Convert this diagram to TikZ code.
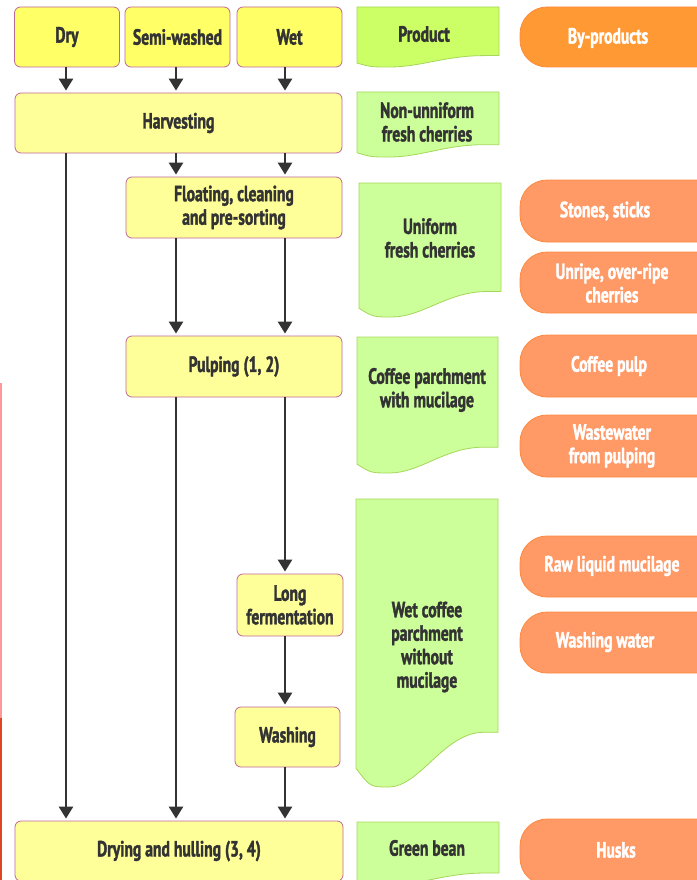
\documentclass[tikz,border=0pt]{standalone}
\usepackage{fontspec}
\setmainfont{PT Sans}[FakeStretch=0.71, BoldFeatures={FakeBold=1.6}]
\usetikzlibrary{arrows.meta,calc}
\definecolor{procYellow}{HTML}{FFFF99}
\definecolor{routeYellow}{HTML}{FFFF66}
\definecolor{procEdge}{HTML}{C0679B}
\definecolor{prodGreen}{HTML}{CCFF99}
\definecolor{prodHead}{HTML}{CCFF66}
\definecolor{prodEdge}{HTML}{A6D65A}
\definecolor{byOrange}{HTML}{FF9966}
\definecolor{byHead}{HTML}{FF9933}
\definecolor{byEdge}{HTML}{FF8A3D}
\definecolor{inkGrey}{HTML}{333333}

% product sheet: fill, x0, y0, x1, lowest y
\newcommand{\prodsheet}[5]{%
  \draw[prodEdge, line width=0.8pt, fill=#1]
    (#2,#3) -- (#4,#3) -- (#4,{#5-0.19*(#5-#3)})
    -- ({#2+0.9*(#4-#2)},{#5-0.19*(#5-#3)})
    .. controls ({#2+0.62*(#4-#2)},{#5-0.19*(#5-#3)}) and ({#2+0.45*(#4-#2)},#5) .. ({#2+0.23*(#4-#2)},#5)
    .. controls ({#2+0.1*(#4-#2)},#5) .. (#2,{#5-0.065*(#5-#3)}) -- cycle;}
% by-product tab, open to the right edge: fill, top, bottom
\newcommand{\bytab}[3]{%
  \draw[byEdge, line width=0.8pt, fill=#1, rounded corners=27pt]
    (700,#2) -- (520,#2) -- (520,#3) -- (700,#3);}

\begin{document}
\begin{tikzpicture}[x=1pt, y=-1pt,
    txt/.style={font=\bfseries\fontsize{22}{23.5}\selectfont, align=center},
    proc/.style={txt, rectangle, rounded corners=6pt, draw=procEdge, fill=procYellow,
                 line width=0.8pt, text=inkGrey, inner sep=0pt},
    route/.style={proc, fill=routeYellow},
    prodtxt/.style={txt, text=inkGrey},
    bytxt/.style={txt, text=white},
    flow/.style={-{Triangle[width=14pt,length=12pt]}, inkGrey, line width=2.6pt, shorten >=2pt}
  ]
  \useasboundingbox (0,0) rectangle (696,880);

  % edge of the page
  \draw[line width=1.5pt, red!40] (0.75,383) -- (0.75,718);
  \draw[line width=1.5pt, red!45!brown] (0.75,718) -- (0.75,880);

  % processing routes
  \node[route, minimum width=105pt, minimum height=60pt] (dry)  at (67,37)    {Dry};
  \node[route, minimum width=105pt, minimum height=60pt] (semi) at (177.5,37) {Semi-washed};
  \node[route, minimum width=105pt, minimum height=60pt] (wet)  at (289.5,37) {Wet};

  % processing steps
  \node[proc, minimum width=327pt, minimum height=60pt] (harv)  at (178.5,123) {Harvesting};
  \node[proc, minimum width=216pt, minimum height=61pt] (float) at (234,207.5) {Floating, cleaning\\and pre-sorting};
  \node[proc, minimum width=216pt, minimum height=61pt] (pulp)  at (234,366.5) {Pulping (1, 2)};
  \node[proc, minimum width=106pt, minimum height=62pt] (ferm)  at (290,605)   {Long\\fermentation};
  \node[proc, minimum width=105pt, minimum height=60pt] (wash)  at (287.5,737) {Washing};
  \node[proc, minimum width=328pt, minimum height=60pt] (dryhl) at (179,851)   {Drying and hulling (3, 4)};

  \coordinate (colA) at (66,0);
  \coordinate (colB) at (176,0);
  \coordinate (colC) at (285,0);
  \foreach \c/\a/\b in {colA/dry/harv, colB/semi/harv, colC/wet/harv,
                        colA/harv/dryhl, colB/harv/float, colC/harv/float,
                        colB/float/pulp, colC/float/pulp,
                        colB/pulp/dryhl, colC/pulp/ferm,
                        colC/ferm/wash, colC/wash/dryhl}
    \draw[flow] (\c |- \a.south) -- (\c |- \b.north);

  % products
  \prodsheet{prodHead}{357}{7}{499}{67}
  \prodsheet{prodGreen}{357}{92}{499}{157}
  \prodsheet{prodGreen}{359}{183}{501}{317}
  \prodsheet{prodGreen}{357}{337}{498}{473}
  \prodsheet{prodGreen}{356}{499}{498}{787}
  \prodsheet{prodGreen}{357}{822}{499}{885}
  \node[prodtxt] (prod)   at (424,34)  {Product};
  \node[prodtxt] (nonuni) at (427,122) {Non-unniform\\fresh cherries};
  \node[prodtxt] (uni)    at (430,238) {Uniform\\fresh cherries};
  \node[prodtxt] (parch)  at (427,390) {Coffee parchment\\with mucilage};
  \node[prodtxt] (wetpar) at (427,647) {Wet coffee\\parchment\\without\\mucilage};
  \node[prodtxt] (green)  at (427,848) {Green bean};

  % by-products
  \bytab{byHead}{7}{67}
  \bytab{byOrange}{180}{242}
  \bytab{byOrange}{252}{313}
  \bytab{byOrange}{335}{397}
  \bytab{byOrange}{415}{477}
  \bytab{byOrange}{536}{597}
  \bytab{byOrange}{612}{673}
  \bytab{byOrange}{819}{885}
  \node[bytxt] (byhead) at (608,38)  {By-products};
  \node[bytxt] (stones) at (605,211) {Stones, sticks};
  \node[bytxt] (unripe) at (612,283) {Unripe, over-ripe\\cherries};
  \node[bytxt] (cpulp)  at (609,366) {Coffee pulp};
  \node[bytxt] (wwater) at (612,446) {Wastewater\\from pulping};
  \node[bytxt] (rawmuc) at (612,566) {Raw liquid mucilage};
  \node[bytxt] (washw)  at (605,642) {Washing water};
  \node[bytxt] (husks)  at (616,850) {Husks};
\end{tikzpicture}
\end{document}
